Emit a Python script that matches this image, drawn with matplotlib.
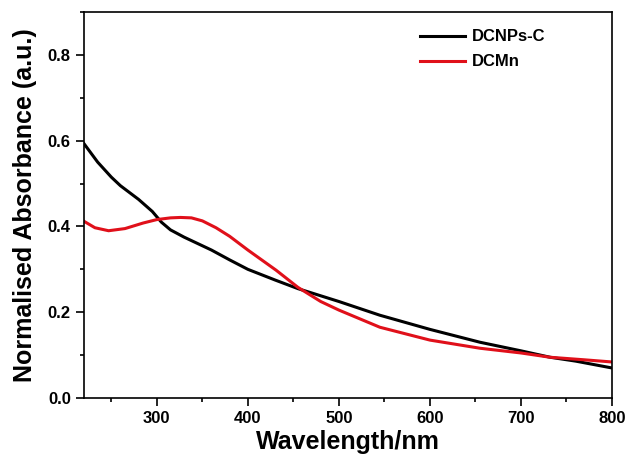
import matplotlib
matplotlib.use('Agg')
import matplotlib.pyplot as plt
from matplotlib.ticker import MultipleLocator

plt.rcParams['font.family'] = ['Liberation Sans', 'DejaVu Sans']
plt.rcParams['font.weight'] = 'bold'

# values
wl_black = [220, 235, 250, 260, 280, 295, 305, 315, 330, 345, 360, 380, 400, 430, 455, 500, 545, 600, 655, 700, 732, 760, 800]
abs_black = [0.593, 0.55, 0.515, 0.495, 0.463, 0.435, 0.41, 0.392, 0.375, 0.36, 0.345, 0.322, 0.30, 0.275, 0.255, 0.225, 0.193, 0.16, 0.13, 0.11, 0.095, 0.086, 0.07]

wl_red = [220, 232, 247, 265, 285, 300, 315, 326, 338, 350, 365, 380, 400, 431, 455, 480, 500, 545, 600, 655, 700, 732, 770, 800]
abs_red = [0.412, 0.397, 0.39, 0.395, 0.408, 0.416, 0.42, 0.421, 0.42, 0.413, 0.397, 0.377, 0.345, 0.298, 0.258, 0.225, 0.205, 0.165, 0.135, 0.116, 0.105, 0.095, 0.089, 0.084]

fig = plt.figure(figsize=(6.3, 4.63), dpi=100)
ax = fig.add_axes([84/630, 65/463, 528/630, 386/463])

ax.plot(wl_black, abs_black, color='black', lw=2.2, label='DCNPs-C')
ax.plot(wl_red, abs_red, color='#e0101a', lw=2.2, label='DCMn')

ax.set_xlim(220, 800)
ax.set_ylim(0, 0.9)
ax.xaxis.set_major_locator(MultipleLocator(100))
ax.xaxis.set_minor_locator(MultipleLocator(50))
ax.yaxis.set_major_locator(MultipleLocator(0.2))
ax.yaxis.set_minor_locator(MultipleLocator(0.1))
ax.tick_params(which='both', direction='out', labelsize=12, width=1.2)
ax.tick_params(which='major', length=6)
ax.tick_params(which='minor', length=3)
for s in ax.spines.values():
    s.set_linewidth(1.2)

ax.set_xlabel('Wavelength/nm', fontsize=18, fontweight='bold', labelpad=3)
ax.set_ylabel('Normalised Absorbance (a.u.)', fontsize=18, fontweight='bold', labelpad=8)

ax.legend(loc='upper left', bbox_to_anchor=(0.636, 0.955), frameon=False, fontsize=12,
          handlelength=2.7, handletextpad=0.4, borderaxespad=0, borderpad=0,
          labelspacing=0.6)

fig.savefig('out.png', dpi=100)
